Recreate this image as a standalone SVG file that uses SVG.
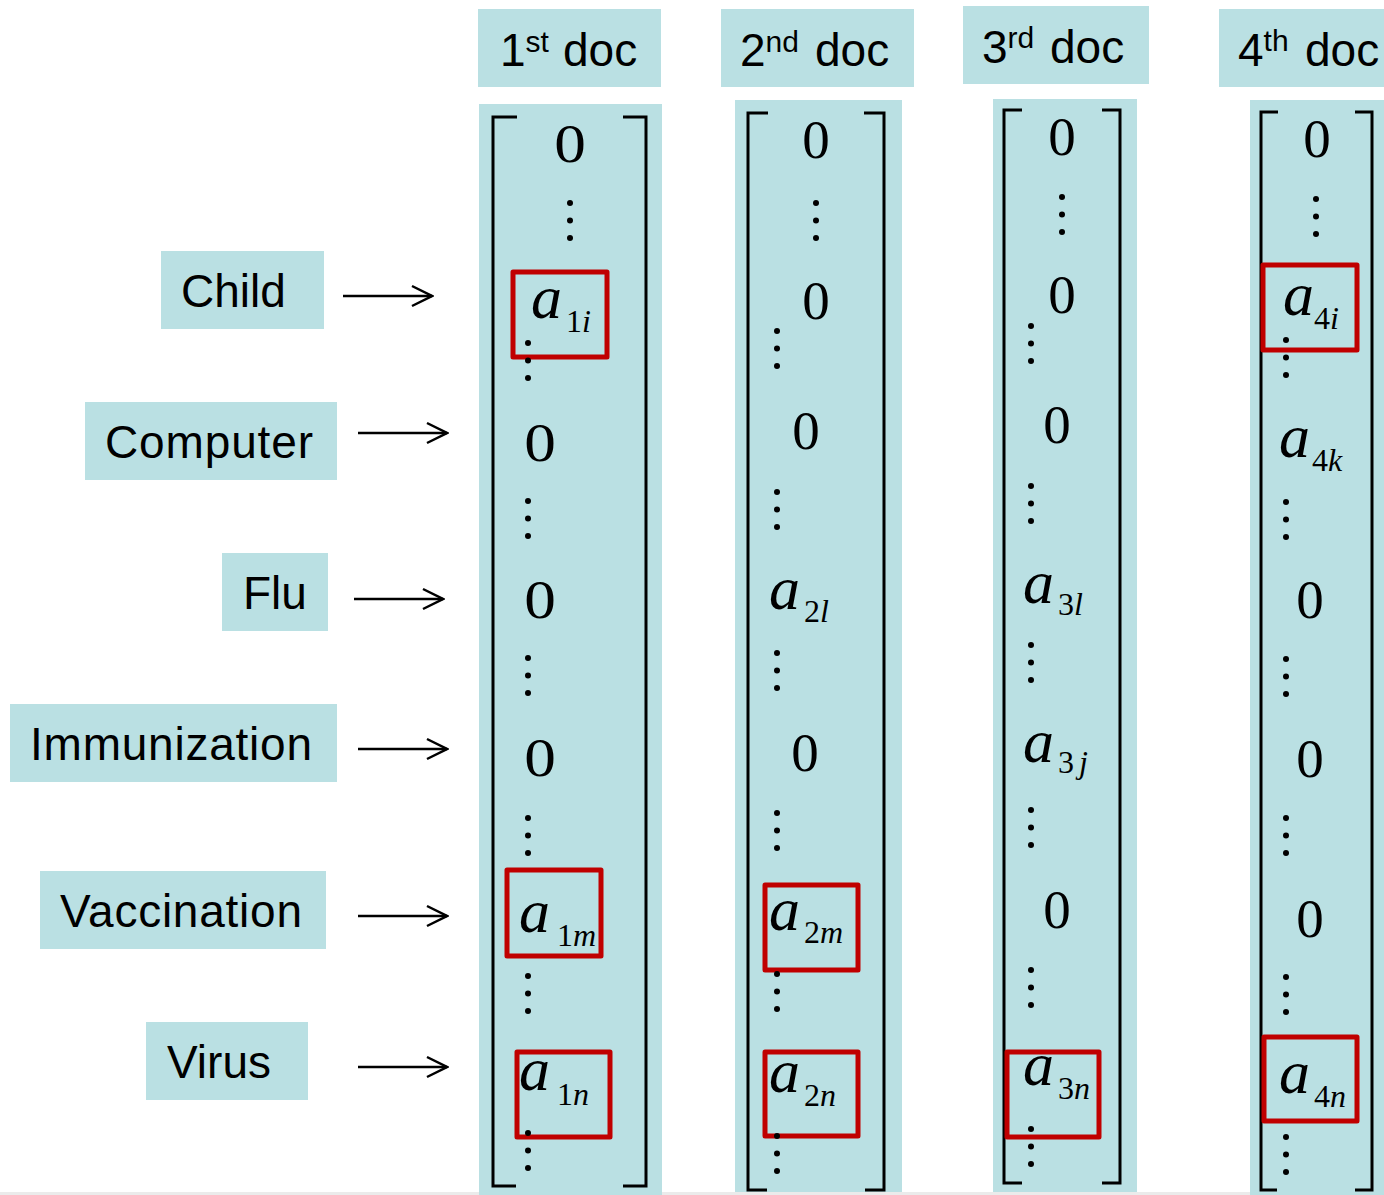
<svg xmlns="http://www.w3.org/2000/svg" width="1384" height="1195" viewBox="0 0 1384 1195">
<style>
.teal{fill:#BAE0E3}
.lbl{font-family:"Liberation Sans",Arial,sans-serif;font-size:46px;fill:#000}
.sup{font-size:30px}
.m{font-family:"Liberation Serif","Times New Roman",serif;fill:#000}
.z{font-size:55px}
.a{font-size:62px;font-style:italic}
.s{font-size:32px}
.si{font-size:32px;font-style:italic}
.red{fill:none;stroke:#C00000;stroke-width:5;stroke-linejoin:round}
.br{fill:none;stroke:#000;stroke-width:3}
.arr{fill:none;stroke:#000;stroke-width:2.5}
</style>
<defs>
<g id="vd"><circle cx="0" cy="0" r="3"/><circle cx="0" cy="17.5" r="3"/><circle cx="0" cy="35" r="3"/></g>
<marker id="ah" viewBox="0 0 24 24" refX="22" refY="12" markerWidth="24" markerHeight="24" markerUnits="userSpaceOnUse" orient="auto"><path d="M2,2 L22,12 L2,22" fill="none" stroke="#000" stroke-width="2.5"/></marker>
</defs>
<rect x="0" y="1192" width="1384" height="3" fill="#ebebeb"/>

<g id="header-1"><rect class="teal" x="478" y="9" width="183" height="78"/><text class="lbl" x="500" y="66">1<tspan class="sup" dy="-14">st</tspan><tspan dy="14" x="563">doc</tspan></text></g>
<g id="header-2"><rect class="teal" x="721" y="9" width="193" height="78"/><text class="lbl" x="740" y="66">2<tspan class="sup" dy="-14">nd</tspan><tspan dy="14" x="815">doc</tspan></text></g>
<g id="header-3"><rect class="teal" x="963" y="6" width="186" height="78"/><text class="lbl" x="982" y="63">3<tspan class="sup" dy="-15">rd</tspan><tspan dy="15" x="1050">doc</tspan></text></g>
<g id="header-4"><rect class="teal" x="1219" y="9" width="165" height="78"/><text class="lbl" x="1238" y="66">4<tspan class="sup" dy="-15">th</tspan><tspan dy="15" x="1305">doc</tspan></text></g>

<g id="label-child"><rect class="teal" x="161" y="251" width="163" height="78"/><text class="lbl" x="181" y="307">Child</text></g>
<g id="label-computer"><rect class="teal" x="85" y="402" width="252" height="78"/><text class="lbl" x="105" y="458" textLength="208">Computer</text></g>
<g id="label-flu"><rect class="teal" x="222" y="553" width="106" height="78"/><text class="lbl" x="243" y="609">Flu</text></g>
<g id="label-immunization"><rect class="teal" x="10" y="704" width="327" height="78"/><text class="lbl" x="30" y="760" textLength="282">Immunization</text></g>
<g id="label-vaccination"><rect class="teal" x="40" y="871" width="286" height="78"/><text class="lbl" x="60" y="927" textLength="242">Vaccination</text></g>
<g id="label-virus"><rect class="teal" x="146" y="1022" width="162" height="78"/><text class="lbl" x="167" y="1078">Virus</text></g>

<g id="connectors">
<line class="arr" x1="343" y1="296" x2="432" y2="296" marker-end="url(#ah)"/>
<line class="arr" x1="358" y1="433" x2="447" y2="433" marker-end="url(#ah)"/>
<line class="arr" x1="354" y1="599" x2="443" y2="599" marker-end="url(#ah)"/>
<line class="arr" x1="358" y1="749" x2="447" y2="749" marker-end="url(#ah)"/>
<line class="arr" x1="358" y1="916" x2="447" y2="916" marker-end="url(#ah)"/>
<line class="arr" x1="358" y1="1067" x2="447" y2="1067" marker-end="url(#ah)"/>
</g>

<g id="doc-1">
<rect class="teal" x="479" y="104" width="183" height="1091"/>
<path class="br" d="M517,117 H493 V1186 H516 M623,117 H646 V1186 H623"/>
<text class="m z" text-anchor="middle" transform="translate(570,162) scale(1.15,1)">0</text>
<use href="#vd" x="570" y="203"/>
<text class="m" x="531" y="318"><tspan class="a">a</tspan><tspan class="s" x="566" y="332">1</tspan><tspan class="si">i</tspan></text>
<rect class="red" x="513" y="272" width="94" height="85"/>
<use href="#vd" x="528" y="343"/>
<text class="m z" text-anchor="middle" transform="translate(540,461) scale(1.15,1)">0</text>
<use href="#vd" x="528" y="501"/>
<text class="m z" text-anchor="middle" transform="translate(540,618) scale(1.15,1)">0</text>
<use href="#vd" x="528" y="658"/>
<text class="m z" text-anchor="middle" transform="translate(540,776) scale(1.15,1)">0</text>
<use href="#vd" x="528" y="818"/>
<text class="m" x="519" y="932"><tspan class="a">a</tspan><tspan class="s" x="557" y="946">1</tspan><tspan class="si">m</tspan></text>
<rect class="red" x="507" y="870" width="94" height="86"/>
<use href="#vd" x="528" y="976"/>
<text class="m" x="519" y="1090"><tspan class="a">a</tspan><tspan class="s" x="557" y="1105">1</tspan><tspan class="si">n</tspan></text>
<rect class="red" x="517" y="1052" width="93" height="85"/>
<use href="#vd" x="528" y="1133"/>
</g>

<g id="doc-2">
<rect class="teal" x="735" y="100" width="167" height="1092"/>
<path class="br" d="M768,113 H748 V1190 H767 M864,113 H884 V1190 H865"/>
<text class="m z" text-anchor="middle" x="816" y="158">0</text>
<use href="#vd" x="816" y="203"/>
<text class="m z" text-anchor="middle" x="816" y="319">0</text>
<use href="#vd" x="777" y="331"/>
<text class="m z" text-anchor="middle" x="806" y="449">0</text>
<use href="#vd" x="777" y="492"/>
<text class="m" x="769" y="609"><tspan class="a">a</tspan><tspan class="s" x="804" y="622">2</tspan><tspan class="si">l</tspan></text>
<use href="#vd" x="777" y="653"/>
<text class="m z" text-anchor="middle" x="805" y="771">0</text>
<use href="#vd" x="777" y="813"/>
<text class="m" x="769" y="930"><tspan class="a">a</tspan><tspan class="s" x="804" y="943">2</tspan><tspan class="si">m</tspan></text>
<rect class="red" x="765" y="885" width="93" height="85"/>
<use href="#vd" x="777" y="974"/>
<text class="m" x="769" y="1092"><tspan class="a">a</tspan><tspan class="s" x="804" y="1106">2</tspan><tspan class="si">n</tspan></text>
<rect class="red" x="765" y="1052" width="93" height="84"/>
<use href="#vd" x="777" y="1136"/>
</g>

<g id="doc-3">
<rect class="teal" x="993" y="99" width="144" height="1093"/>
<path class="br" d="M1022,110 H1004 V1183 H1022 M1102,110 H1120 V1183 H1102"/>
<text class="m z" text-anchor="middle" x="1062" y="155">0</text>
<use href="#vd" x="1062" y="197"/>
<text class="m z" text-anchor="middle" x="1062" y="313">0</text>
<use href="#vd" x="1031" y="326"/>
<text class="m z" text-anchor="middle" x="1057" y="443">0</text>
<use href="#vd" x="1031" y="486"/>
<text class="m" x="1023" y="603"><tspan class="a">a</tspan><tspan class="s" x="1058" y="615">3</tspan><tspan class="si">l</tspan></text>
<use href="#vd" x="1031" y="645"/>
<text class="m" x="1023" y="762"><tspan class="a">a</tspan><tspan class="s" x="1058" y="773">3</tspan><tspan class="si" dx="5">j</tspan></text>
<use href="#vd" x="1031" y="810"/>
<text class="m z" text-anchor="middle" x="1057" y="928">0</text>
<use href="#vd" x="1031" y="970"/>
<text class="m" x="1023" y="1085"><tspan class="a">a</tspan><tspan class="s" x="1058" y="1099">3</tspan><tspan class="si">n</tspan></text>
<rect class="red" x="1007" y="1052" width="92" height="85"/>
<use href="#vd" x="1031" y="1129"/>
</g>

<g id="doc-4">
<rect class="teal" x="1250" y="100" width="134" height="1095"/>
<path class="br" d="M1278,112 H1261 V1190 H1277 M1355,112 H1372 V1190 H1355"/>
<text class="m z" text-anchor="middle" x="1317" y="157">0</text>
<use href="#vd" x="1316" y="199"/>
<text class="m" x="1283" y="315"><tspan class="a">a</tspan><tspan class="s" x="1314" y="329">4</tspan><tspan class="si">i</tspan></text>
<rect class="red" x="1263" y="265" width="94" height="85"/>
<use href="#vd" x="1286" y="340"/>
<text class="m" x="1279" y="457"><tspan class="a">a</tspan><tspan class="s" x="1312" y="471">4</tspan><tspan class="si">k</tspan></text>
<use href="#vd" x="1286" y="502"/>
<text class="m z" text-anchor="middle" x="1310" y="618">0</text>
<use href="#vd" x="1286" y="659"/>
<text class="m z" text-anchor="middle" x="1310" y="777">0</text>
<use href="#vd" x="1286" y="818"/>
<text class="m z" text-anchor="middle" x="1310" y="937">0</text>
<use href="#vd" x="1286" y="977"/>
<text class="m" x="1279" y="1093"><tspan class="a">a</tspan><tspan class="s" x="1314" y="1107">4</tspan><tspan class="si">n</tspan></text>
<rect class="red" x="1264" y="1037" width="93" height="84"/>
<use href="#vd" x="1286" y="1137"/>
</g>
</svg>
